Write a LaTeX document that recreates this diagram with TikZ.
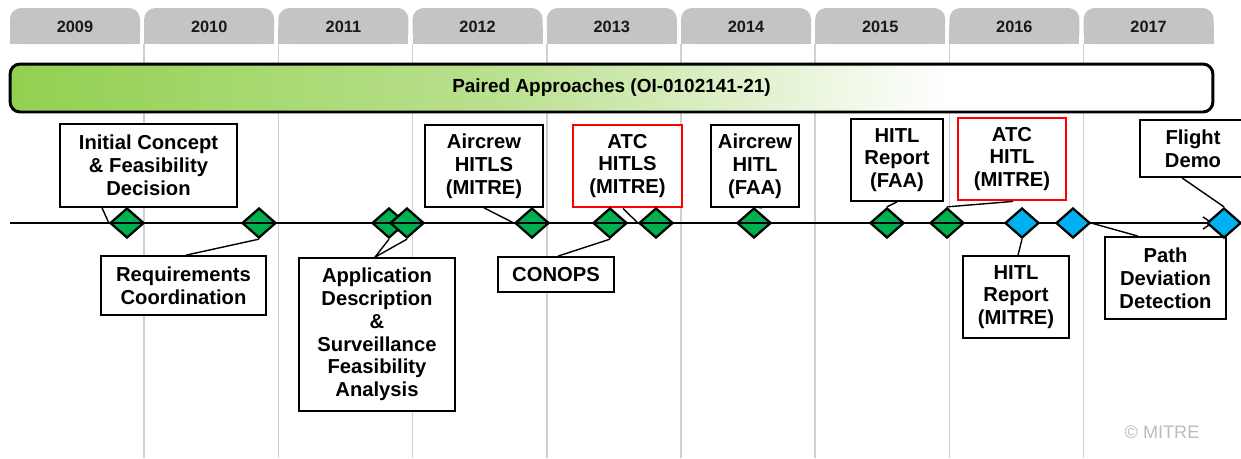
\documentclass[tikz,border=0pt]{standalone}
\usepackage{fontspec}
\setmainfont{Liberation Sans}
\usetikzlibrary{shapes.geometric,arrows.meta}
\definecolor{msgreen}{HTML}{00B050}
\definecolor{msblue}{HTML}{00B0F0}
\definecolor{tabgray}{HTML}{C4C4C4}
\definecolor{gridgray}{HTML}{D0D0D0}
\definecolor{copygray}{HTML}{BBBBBB}
\definecolor{barleft}{RGB}{146,208,80}
\definecolor{barmid}{RGB}{188,225,146}
\pgfdeclarehorizontalshading{barshade}{100bp}{color(0bp)=(barleft); color(25bp)=(barleft); color(46bp)=(barmid); color(64bp)=(white); color(100bp)=(white)}
\begin{document}
\begin{tikzpicture}[x=0.02cm,y=-0.02cm,
	yeartxt/.style={font=\fontsize{9.3}{11}\selectfont\bfseries,text=black!90},
	gridline/.style={draw=gridgray,line width=0.9pt},
	dia/.style={diamond,draw=black,line width=1.3pt,minimum width=0.68cm,minimum height=0.6cm,inner sep=0pt},
	greendia/.style={dia,fill=msgreen},
	bluedia/.style={dia,fill=msblue},
	msbox/.style={draw=black,fill=white,line width=1pt,align=center,inner sep=0pt,font=\fontsize{11.5}{13}\selectfont\bfseries},
	redbox/.style={msbox,draw=red,line width=1.6pt},
	conn/.style={line width=0.8pt},
	timeline/.style={line width=0.8pt,-{Straight Barb[length=5pt,width=7pt]}}]
	\useasboundingbox (0,0) rectangle (1241,458);
	% year tabs
	\foreach \yr [count=\i from 0] in {2009,2010,...,2017}{
		\pgfmathsetmacro\xl{10+134.2*\i}
		\pgfmathsetmacro\xr{\xl+130}
		\fill[tabgray,rounded corners=0.22cm] (\xl,8) rectangle (\xr,44);
		\fill[tabgray] (\xl,26) rectangle (\xr,44);
		\node[yeartxt] (y\yr) at (\xl+65,27) {\yr};
	}
	\foreach \i in {1,...,8}
		\draw[gridline] (10+134.2*\i,44) -- (10+134.2*\i,458);
	\node[draw=black,line width=1.7pt,rounded corners=0.2cm,shade,shading=barshade,minimum width=24.06cm,minimum height=0.96cm,font=\fontsize{10.8}{12}\selectfont\bfseries] (bar) at (611.5,88) {Paired Approaches (OI-0102141-21)};
	% boxes
	\node[msbox,minimum width=3.54cm,minimum height=1.66cm] (init) at (148.5,165.5) {Initial Concept\\\& Feasibility\\Decision};
	\node[msbox,minimum width=3.30cm,minimum height=1.18cm] (req) at (183.5,285.5) {Requirements\\Coordination};
	\node[msbox,minimum width=3.12cm,minimum height=3.06cm] (app) at (377,334.5) {Application\\Description\\\&\\Surveillance\\Feasibility\\Analysis};
	\node[msbox,minimum width=2.36cm,minimum height=1.64cm] (acm) at (484,166) {Aircrew\\HITLS\\(MITRE)};
	\node[redbox,minimum width=2.18cm,minimum height=1.64cm] (atcs) at (627.5,166) {ATC\\HITLS\\(MITRE)};
	\node[msbox,minimum width=2.32cm,minimum height=0.70cm] (conops) at (556,274.5) {CONOPS};
	\node[msbox,minimum width=1.76cm,minimum height=1.64cm] (acf) at (755,166) {Aircrew\\HITL\\(FAA)};
	\node[msbox,minimum width=1.84cm,minimum height=1.64cm] (rfaa) at (897,160) {HITL\\Report\\(FAA)};
	\node[redbox,minimum width=2.16cm,minimum height=1.64cm] (atch) at (1012,159) {ATC\\HITL\\(MITRE)};
	\node[msbox,minimum width=2.12cm,minimum height=1.64cm] (rmitre) at (1016,297) {HITL\\Report\\(MITRE)};
	\node[msbox,minimum width=2.42cm,minimum height=1.64cm] (path) at (1165.5,278) {Path\\Deviation\\Detection};
	\node[msbox,minimum width=2.12cm,minimum height=1.14cm] (demo) at (1193,148.5) {Flight\\Demo};
	% milestones
	\foreach \n/\x in {1/127,2/259,3/389,4/407,5/532,6/610,7/656,8/754,9/887,10/947}
		\node[greendia] (d\n) at (\x,223) {};
	\coordinate (tstart) at (10,223);
	\coordinate (tend) at (1213,223);
	\draw[timeline] (tstart) -- (tend);
	\foreach \n/\x in {11/1022,12/1073,13/1224}
		\node[bluedia] (d\n) at (\x,223) {};
	% connectors
	\draw[conn] ([xshift=-0.93cm]init.south) -- (d1.west);
	\draw[conn] ([xshift=0.05cm]req.north) -- (d2.south);
	\draw[conn] ([xshift=-0.04cm]app.north) -- (d3.south);
	\draw[conn] ([xshift=-0.04cm]app.north) -- (d4.south);
	\draw[conn] (acm.south) -- (d5.west);
	\draw[conn] ([xshift=0.04cm]conops.north) -- (d6.south);
	\draw[conn] ([xshift=-0.09cm]atcs.south) -- (d7.west);
	\draw[conn] ([xshift=0.14cm]acf.south) -- (d8.north);
	\draw[conn] (rfaa.south) -- (d9.north);
	\draw[conn] ([xshift=0.02cm]atch.south) -- (d10.north);
	\draw[conn] ([xshift=0.04cm]rmitre.north) -- (d11.south);
	\draw[conn] ([xshift=-0.55cm]path.north) -- (d12.east);
	\draw[conn] ([xshift=-0.22cm]demo.south) -- (d13.north);
	\node[font=\fontsize{10.3}{12}\selectfont,text=copygray] (copy) at (1162,432) {© MITRE};
\end{tikzpicture}
\end{document}
